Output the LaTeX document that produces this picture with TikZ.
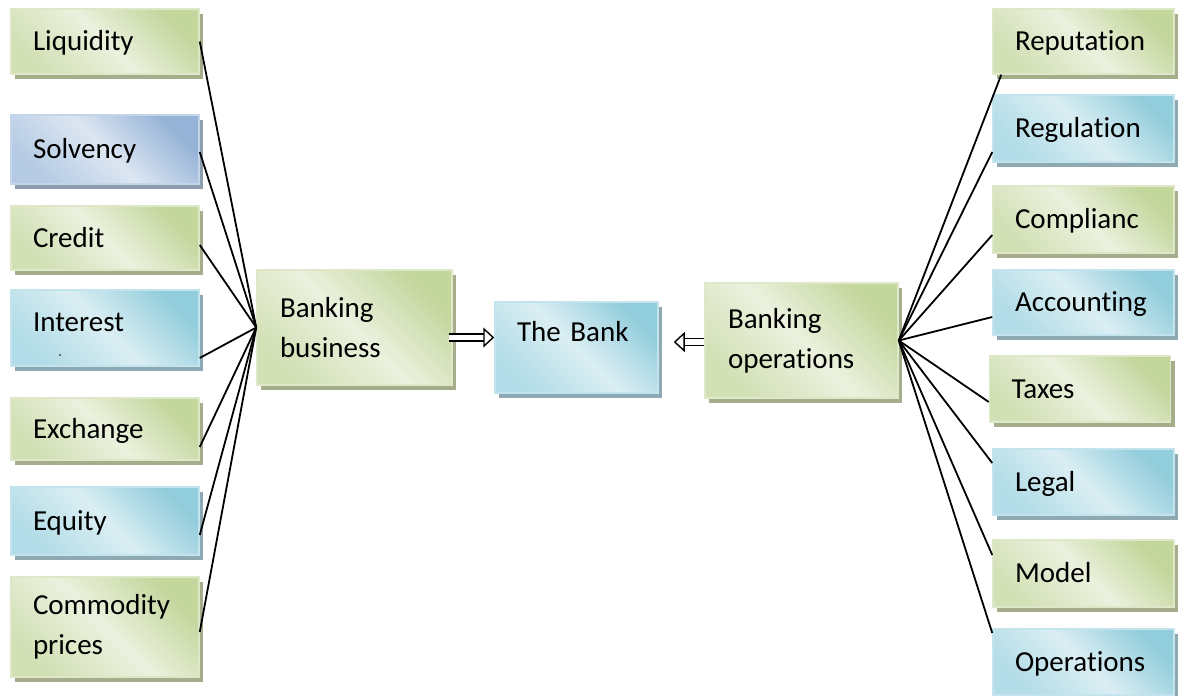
\documentclass[tikz,border=0pt]{standalone}
\usepackage{fontspec}
\setmainfont{Carlito}[Ligatures=CommonOff]
\usetikzlibrary{positioning, arrows.meta, shadows}

\definecolor{gdk}{HTML}{C3D69B}
\definecolor{glt}{HTML}{EBF1DE}
\definecolor{gmd}{HTML}{D2E0B5}
\definecolor{tdk}{HTML}{92CDDC}
\definecolor{tlt}{HTML}{DAEEF3}
\definecolor{tmd}{HTML}{B2DCE7}
\definecolor{sdk}{HTML}{95B3D7}
\definecolor{slt}{HTML}{DCE6F2}
\definecolor{smd}{HTML}{B5CBE4}
\definecolor{gsh}{HTML}{A5AD8A}
\definecolor{tsh}{HTML}{8EA9B2}
\definecolor{ssh}{HTML}{8E9DB0}

\pgfdeclarehorizontalshading{grnshade}{100bp}{color(0bp)=(gmd); color(25bp)=(gmd); color(50bp)=(glt); color(75bp)=(gdk); color(100bp)=(gdk)}
\pgfdeclarehorizontalshading{tealshade}{100bp}{color(0bp)=(tmd); color(25bp)=(tmd); color(50bp)=(tlt); color(75bp)=(tdk); color(100bp)=(tdk)}
\pgfdeclarehorizontalshading{steelshade}{100bp}{color(0bp)=(smd); color(25bp)=(smd); color(50bp)=(slt); color(75bp)=(sdk); color(100bp)=(sdk)}

\tikzset{
  box/.style={rectangle, align=left, inner xsep=22pt, inner ysep=0pt,
    line width=1.5pt, shading angle=45, font=\fontsize{29pt}{40pt}\selectfont},
  oneline/.style={text height=18.6pt, text depth=0pt},
  grn/.style={box, draw=gdk!55!white, shading=grnshade,
    drop shadow={shadow xshift=4pt, shadow yshift=-5pt, fill=gsh, opacity=1}},
  teal/.style={box, draw=tdk!55!white, shading=tealshade,
    drop shadow={shadow xshift=4pt, shadow yshift=-5pt, fill=tsh, opacity=1}},
  steel/.style={box, draw=sdk!55!white, shading=steelshade,
    drop shadow={shadow xshift=4pt, shadow yshift=-5pt, fill=ssh, opacity=1}},
  leftbox/.style={text width=144pt},
  rightbox/.style={text width=137pt},
  fan/.style={line width=1.8pt},
  hollow/.style={line width=1.4pt, double=white, double distance=5.4pt,
    -{Triangle[open, length=11pt, width=20pt]}}
}

\begin{document}
\begin{tikzpicture}[x=1pt, y=-1pt, on grid]

\useasboundingbox (0,0) rectangle (1181,696);

% Left column
\node[grn, leftbox, oneline, minimum height=65pt] (liq) at (105,41.5) {Liquidity};
\node[steel, leftbox, oneline, minimum height=69pt] (solv) [below=108pt of liq] {Solvency};
\node[grn, leftbox, oneline, minimum height=64pt] (cred) [below=88.5pt of solv] {Credit};
\node[teal, leftbox, oneline, text depth=11pt, minimum height=76pt] (intr) [below=90pt of cred] {Interest};
\node[grn, leftbox, oneline, minimum height=62pt] (exch) [below=101pt of intr] {Exchange};
\node[teal, leftbox, oneline, minimum height=68pt] (equi) [below=92pt of exch] {Equity};
\node[grn, leftbox, minimum height=100pt] (comm) [below=106pt of equi] {Commodity\\prices};
\fill (60,355) circle (0.8pt);

% Middle
\node[grn, text width=149pt, inner xsep=23pt, minimum height=115pt] (bb) at (354.5,327.5) {Banking\\business};
\node[teal, text width=119pt, oneline, text depth=30pt, minimum height=91pt] (bank) at (576.5,347.5) {The Bank};
\node[grn, text width=147pt, inner xsep=23pt, minimum height=115pt] (bo) at (801.5,340.5) {Banking\\operations};

% Right column
\node[grn, rightbox, oneline, minimum height=65pt] (rep) at (1083.5,41.5) {Reputation};
\node[teal, rightbox, oneline, minimum height=67pt] (regu) [below=87pt of rep] {Regulation};
\node[grn, rightbox, oneline, minimum height=67pt] (comp) [below=91pt of regu] {Complianc};
\node[teal, rightbox, oneline, minimum height=65pt] (acc) [below=83pt of comp] {Accounting};
\node[grn, rightbox, oneline, minimum height=66pt] (tax) [below=86.5pt of acc, xshift=-3.5pt] {Taxes};
\node[teal, rightbox, oneline, minimum height=66pt] (legal) [below=93pt of tax, xshift=3.5pt] {Legal};
\node[grn, rightbox, oneline, minimum height=67pt] (model) [below=91.5pt of legal] {Model};
\node[teal, rightbox, oneline, minimum height=66pt] (oper) [below=88.5pt of model] {Operations};

% Fan into the business box
\path[fan]
    (liq.east) edge (bb.west)
    ([yshift=-2.5pt]solv.east) edge (bb.west)
    ([yshift=-7pt]cred.east) edge (bb.west)
    ([yshift=-30pt]intr.east) edge (bb.west)
    ([yshift=-18pt]exch.east) edge (bb.west)
    ([yshift=-14pt]equi.east) edge (bb.west)
    ([yshift=-5pt]comm.east) edge (bb.west);

% Fan out of the operations box
\path[fan]
    (bo.east) edge ([xshift=9pt]rep.south west)
              edge ([yshift=-23.5pt]regu.west)
              edge ([yshift=-15.5pt]comp.west)
              edge ([yshift=-14.5pt]acc.west)
              edge ([yshift=-13pt]tax.west)
              edge ([yshift=19pt]legal.west)
              edge ([yshift=18.5pt]model.west)
              edge ([yshift=29pt]oper.west);

% Hollow arrows into the bank
\draw[hollow] ([xshift=-4pt, yshift=-10pt]bb.east) -- ([yshift=10pt]bank.west);
\draw[hollow] ([yshift=-1.5pt]bo.west) -- ([xshift=15pt, yshift=5.5pt]bank.east);

\end{tikzpicture}
\end{document}
